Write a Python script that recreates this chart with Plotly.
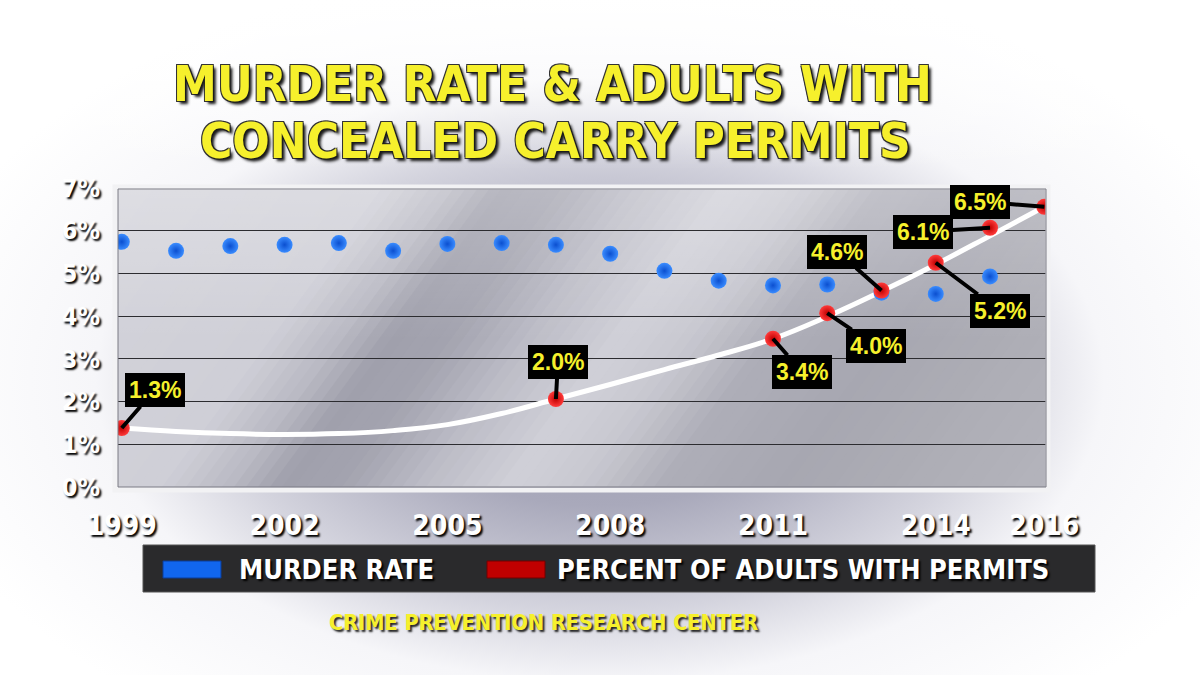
import plotly.graph_objects as go

# ---------------- data ----------------
murder_years = [1999, 2000, 2001, 2002, 2003, 2004, 2005, 2006, 2007, 2008,
                2009, 2010, 2011, 2012, 2013, 2014, 2015]
murder_rate = [5.74, 5.53, 5.64, 5.67, 5.71, 5.53, 5.69, 5.71, 5.67, 5.46,
               5.06, 4.83, 4.72, 4.74, 4.55, 4.52, 4.93]

permit_years = [1999, 2007, 2011, 2012, 2013, 2014, 2015, 2016]
permit_pct = [1.38, 2.06, 3.47, 4.07, 4.60, 5.25, 6.07, 6.56]
permit_labels = ["1.3%", "2.0%", "3.4%", "4.0%", "4.6%", "5.2%", "6.1%", "6.5%"]

trend_years = [1999, 2000, 2001, 2002, 2003, 2004, 2005, 2006, 2007, 2008,
               2009, 2010, 2011, 2012, 2013, 2014, 2015, 2016]
trend_pct = [1.38, 1.30, 1.25, 1.23, 1.25, 1.32, 1.46, 1.72, 2.06, 2.40,
             2.75, 3.09, 3.47, 3.99, 4.58, 5.21, 5.88, 6.56]

x_tick_vals = [1999, 2002, 2005, 2008, 2011, 2014, 2016]
y_tick_vals = [0, 1, 2, 3, 4, 5, 6, 7]

title_lines = ["MURDER RATE &amp; ADULTS WITH", "CONCEALED CARRY PERMITS"]
legend_names = ["MURDER RATE", "PERCENT OF ADULTS WITH PERMITS"]
source_text = "CRIME PREVENTION RESEARCH CENTER"

# ---------------- styling / layout constants ----------------
W, H = 1200, 675
PL, PR, PT, PB = 118, 1047, 188, 487          # plot area in pixels
NARROW = "DejaVu Sans Condensed, Liberation Sans Narrow, sans-serif"
YELLOW = "#f6f02c"
LABEL_OFFSETS = [(33, -38), (2, -37), (29, 33), (49, 33),
                 (-44, -39), (64, 48), (-67, 4), (-64, -5)]
SLANT = 220                                   # diagonal sheen: x shift from top to bottom
SHEEN_STOPS = [(118, "#d3d3da"), (380, "#cfcfd7"), (450, "#b9b9c3"), (500, "#a0a0ac"),
               (560, "#a3a3af"), (640, "#bcbcc6"), (730, "#d0d0d8"), (800, "#c8c8d0"),
               (880, "#aeaeb8"), (1000, "#a7a7b1"), (1100, "#acacb4"), (1270, "#b4b4bc")]

fig = go.Figure()


def deco(xs, ys, **kw):
    fig.add_trace(go.Scatter(x=xs, y=ys, mode="lines", fill="toself",
                             line=dict(width=0), hoverinfo="skip",
                             showlegend=False, xaxis="x", yaxis="y", **kw))


def clip_rect(poly, x0, x1, y0, y1):
    def clip(pts, inside, inter):
        out = []
        for i in range(len(pts)):
            cur, prev = pts[i], pts[i - 1]
            if inside(cur):
                if not inside(prev):
                    out.append(inter(prev, cur))
                out.append(cur)
            elif inside(prev):
                out.append(inter(prev, cur))
        return out

    def ix(xc):
        return lambda p, q: (xc, p[1] + (q[1] - p[1]) * (xc - p[0]) / (q[0] - p[0]))

    def iy(yc):
        return lambda p, q: (p[0] + (q[0] - p[0]) * (yc - p[1]) / (q[1] - p[1]), yc)

    pts = clip(poly, lambda p: p[0] >= x0, ix(x0))
    if pts:
        pts = clip(pts, lambda p: p[0] <= x1, ix(x1))
    if pts:
        pts = clip(pts, lambda p: p[1] >= y0, iy(y0))
    if pts:
        pts = clip(pts, lambda p: p[1] <= y1, iy(y1))
    return pts


def hex_rgb(h):
    return tuple(int(h[i:i + 2], 16) for i in (1, 3, 5))


def sheen_color(s):
    for (sa, ca), (sb, cb) in zip(SHEEN_STOPS[:-1], SHEEN_STOPS[1:]):
        if sa <= s <= sb:
            t = (s - sa) / (sb - sa)
            a, b = hex_rgb(ca), hex_rgb(cb)
            return "rgb(%d,%d,%d)" % tuple(round(a[k] + (b[k] - a[k]) * t) for k in range(3))
    return SHEEN_STOPS[-1][1]


# ---- background decoration on a full-page pixel axis (x, y) ----
deco([-100, 1300, 1300, -100, -100], [-40, -40, 800, 800, -40],
     fillgradient=dict(type="radial",
                       colorscale=[[0, "#9a9aae"], [0.3, "#a9a9bb"], [0.55, "#d4d4de"],
                                   [0.72, "#f6f6f9"], [1, "#ffffff"]]))
deco([-10, 1210, 1210, -10, -10], [-10, -10, 170, 170, -10],
     fillgradient=dict(type="vertical", start=0, stop=170,
                       colorscale=[[0, "rgba(255,255,255,0.95)"], [1, "rgba(255,255,255,0)"]]))
# plot-area metallic panel: diagonal sheen built from slanted strips
STEP = 12
s = PL
while s < PR + SLANT:
    poly = [(s, PT), (s + STEP + 1, PT), (s + STEP + 1 - SLANT, PB), (s - SLANT, PB)]
    pts = clip_rect(poly, PL, PR, PT, PB)
    if len(pts) >= 3:
        deco([p[0] for p in pts] + [pts[0][0]], [p[1] for p in pts] + [pts[0][1]],
             fillcolor=sheen_color(s + STEP / 2))
    s += STEP
deco([PL, PR, PR, PL, PL], [PT, PT, 340, 340, PT],
     fillgradient=dict(type="vertical", start=PT, stop=340,
                       colorscale=[[0, "rgba(255,255,255,0.25)"], [1, "rgba(255,255,255,0)"]]))

# ---- chart traces on (x2, y2) ----
fig.add_trace(go.Scatter(
    x=trend_years, y=trend_pct, mode="lines",
    line=dict(color="white", width=5, shape="spline", smoothing=1.2),
    hoverinfo="skip", showlegend=False, xaxis="x2", yaxis="y2"))
fig.add_trace(go.Scatter(
    x=murder_years, y=murder_rate, mode="markers", name=legend_names[0],
    marker=dict(size=16, color="#3a8cff", gradient=dict(type="radial", color="#0b4fd0"),
                line=dict(width=0)),
    showlegend=False, xaxis="x2", yaxis="y2"))
fig.add_trace(go.Scatter(
    x=permit_years, y=permit_pct, mode="markers", name=legend_names[1],
    marker=dict(size=16, color="#ff3b3b", gradient=dict(type="radial", color="#c00000"),
                line=dict(width=0)),
    showlegend=False, xaxis="x2", yaxis="y2"))

# ---- data labels ----
annotations = []
for yr, v, lab, (ax, ay) in zip(permit_years, permit_pct, permit_labels, LABEL_OFFSETS):
    annotations.append(dict(
        x=yr, y=v, xref="x2", yref="y2", text=f"<b>{lab}</b>",
        ax=ax, ay=ay, showarrow=True, arrowhead=0, arrowwidth=4, arrowcolor="black",
        standoff=0, bgcolor="black", bordercolor="black", borderpad=3,
        font=dict(family="Liberation Sans, Arial, sans-serif", size=23, color=YELLOW)))

title_shadow = "3px 3px 3px #1a1a1a, -1px -1px 0 #333, 1px -1px 0 #333, -1px 1px 0 #333, 1px 1px 0 #333"
for line, xc, yc in zip(title_lines, [552, 555], [84, 141]):
    annotations.append(dict(
        x=xc, y=yc, xref="x", yref="y", text=f"<b>{line}</b>", showarrow=False,
        xanchor="center", yanchor="middle",
        font=dict(family=NARROW, size=49, color=YELLOW, shadow=title_shadow)))

# legend box contents
legend_font = dict(family=NARROW, size=27, color="white", shadow="2px 2px 2px #000")
annotations.append(dict(x=237, y=569, xref="x", yref="y", text=f"<b>{legend_names[0]}</b>",
                        showarrow=False, xanchor="left", yanchor="middle", font=legend_font))
annotations.append(dict(x=555, y=569, xref="x", yref="y", text=f"<b>{legend_names[1]}</b>",
                        showarrow=False, xanchor="left", yanchor="middle", font=legend_font))
annotations.append(dict(x=543, y=622, xref="x", yref="y", text=f"<b>{source_text}</b>",
                        showarrow=False, xanchor="center", yanchor="middle",
                        font=dict(family=NARROW, size=21.5, color=YELLOW,
                                  shadow="2px 2px 2px #222")))

shapes = [
    # plot frame
    dict(type="rect", xref="x", yref="y", x0=PL - 3, x1=PR + 1, y0=PT - 1, y1=PB + 3,
         line=dict(color="#f2f2f4", width=5), layer="above"),
    dict(type="rect", xref="x", yref="y", x0=PL, x1=PR - 1, y0=PT + 1, y1=PB,
         line=dict(color="#7a7a84", width=1), layer="above"),
    # legend box
    dict(type="rect", xref="x", yref="y", x0=143, x1=1095, y0=545, y1=592,
         fillcolor="#2a2a2c", line=dict(color="#555", width=1), layer="above"),
    dict(type="rect", xref="x", yref="y", x0=163, x1=221, y0=561, y1=578,
         fillcolor="#1166ee", line=dict(color="#0a3c99", width=1), layer="above"),
    dict(type="rect", xref="x", yref="y", x0=487, x1=545, y0=561, y1=578,
         fillcolor="#c00000", line=dict(color="#700000", width=1), layer="above"),
]

x_tick_font = dict(family=NARROW, size=28, color="white", shadow="2px 2px 2px #000")
y_tick_font = dict(family=NARROW, size=25, color="white", shadow="2px 2px 2px #000")

fig.update_layout(
    width=W, height=H, margin=dict(l=0, r=0, t=0, b=0, pad=0, autoexpand=False),
    paper_bgcolor="white", plot_bgcolor="rgba(0,0,0,0)",
    showlegend=False,
    xaxis=dict(domain=[0, 1], range=[0, W], visible=False, fixedrange=True, automargin=False),
    yaxis=dict(domain=[0, 1], range=[H, 0], visible=False, fixedrange=True, automargin=False),
    xaxis2=dict(domain=[PL / W, PR / W], range=[1998.93, 2016.05], anchor="y2",
                tickvals=x_tick_vals, ticktext=[f"<b>{v}</b>" for v in x_tick_vals],
                showgrid=False, zeroline=False, showline=False, automargin=False,
                ticks="outside", ticklen=13, tickcolor="rgba(0,0,0,0)",
                tickfont=x_tick_font),
    yaxis2=dict(domain=[1 - PB / H, 1 - PT / H], range=[0, 7], anchor="x2",
                tickvals=y_tick_vals, ticktext=[f"<b>{v}%</b>" for v in y_tick_vals],
                showgrid=True, gridcolor="#2c2c30", gridwidth=1.3, zeroline=False,
                showline=False, ticks="outside", ticklen=12, tickcolor="rgba(0,0,0,0)",
                automargin=False, tickfont=y_tick_font),
    annotations=annotations, shapes=shapes,
)

fig.write_html("out.html")
